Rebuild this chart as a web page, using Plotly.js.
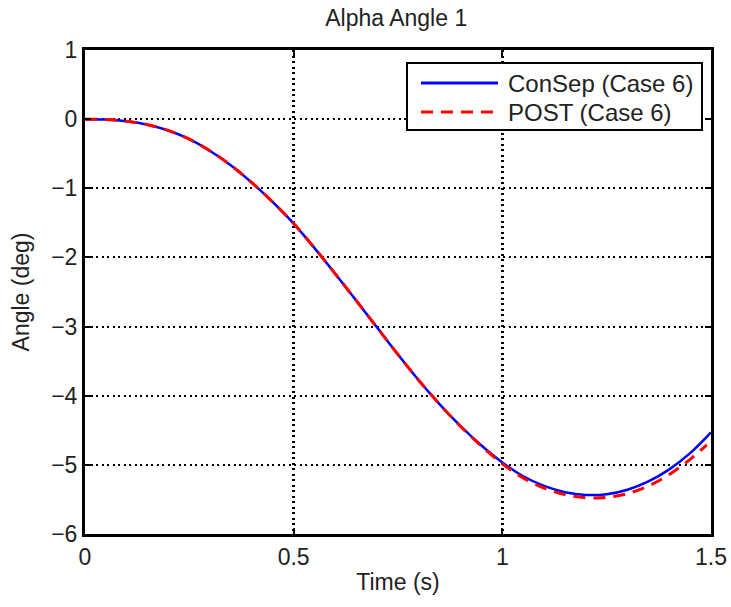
<!DOCTYPE html>
<html>
<head>
<meta charset="utf-8">
<script src="https://cdn.plot.ly/plotly-3.0.1.min.js"></script>
<style>html,body{margin:0;padding:0;background:#fff;}#chart{width:731px;height:607px;}</style>
</head>
<body>
<div id="chart"></div>
<script>
const timeConSep = [0,0.05,0.1,0.15,0.2,0.25,0.3,0.35,0.4,0.45,0.5,0.55,0.6,0.65,0.7,0.75,0.8,0.85,0.9,0.95,1.0,1.05,1.1,1.15,1.2,1.25,1.3,1.35,1.4,1.45,1.5];
const angleConSep = [0,-0.005,-0.03,-0.08,-0.165,-0.29,-0.46,-0.67,-0.92,-1.2,-1.51,-1.865,-2.24,-2.625,-3.015,-3.405,-3.78,-4.125,-4.44,-4.72,-4.965,-5.165,-5.305,-5.395,-5.435,-5.425,-5.36,-5.24,-5.065,-4.83,-4.53];
const timePOST = [0,0.05,0.1,0.15,0.2,0.25,0.3,0.35,0.4,0.45,0.5,0.55,0.6,0.65,0.7,0.75,0.8,0.85,0.9,0.95,1.0,1.05,1.1,1.15,1.2,1.25,1.3,1.35,1.4,1.45,1.49];
const anglePOST = [0,-0.005,-0.03,-0.08,-0.165,-0.29,-0.46,-0.67,-0.92,-1.2,-1.51,-1.865,-2.24,-2.625,-3.015,-3.405,-3.78,-4.125,-4.445,-4.73,-4.985,-5.19,-5.335,-5.43,-5.475,-5.47,-5.415,-5.305,-5.14,-4.92,-4.71];
const seriesNames = ["ConSep (Case 6)", "POST (Case 6)"];
const seriesColors = ["#0000ff", "#ff0000"];
const xTicks = [0,0.5,1,1.5];
const yTicks = [-6,-5,-4,-3,-2,-1,0,1];

const fam = "Liberation Sans, Arial, sans-serif";
const font = {family: fam, size: 23, color: "#222"};
const legFont = {family: fam, size: 24, color: "#222"};
const redDash = "12px,8px";
const traces = [
  {x: timeConSep, y: angleConSep, name: seriesNames[0], mode: "lines", line: {color: seriesColors[0], width: 2.5, shape: "spline"}},
  {x: timePOST, y: anglePOST, name: seriesNames[1], mode: "lines", line: {color: seriesColors[1], width: 3, dash: redDash, shape: "spline"}}
];
const axisCommon = {
  showline: true, mirror: "ticks", linecolor: "#000", linewidth: 3,
  ticks: "inside", ticklen: 6, tickwidth: 2, tickcolor: "#000",
  showgrid: true, gridcolor: "#000", griddash: "2px,3.5px",
  zeroline: false, tickfont: font, automargin: false
};

// legend drawn as a box in paper coordinates
const legBox = {x0: 0.5144, x1: 0.9856, y0: 0.8347, y1: 0.9731};
const legRows = [0.9318, 0.8719];
const legLine = [0.5367, 0.6597];
const legText = 0.6725;
const shapes = [
  {type: "rect", xref: "paper", yref: "paper", x0: legBox.x0, x1: legBox.x1, y0: legBox.y0, y1: legBox.y1,
   line: {color: "#000", width: 2}, fillcolor: "#fff", layer: "above"}
];
const annotations = [];
seriesNames.forEach((n, i) => {
  shapes.push({type: "line", xref: "paper", yref: "paper", x0: legLine[0], x1: legLine[1], y0: legRows[i], y1: legRows[i],
    line: {color: seriesColors[i], width: 3, dash: i === 1 ? redDash : "solid"}, layer: "above"});
  annotations.push({xref: "paper", yref: "paper", x: legText, y: legRows[i], xanchor: "left", yanchor: "middle",
    text: n, showarrow: false, font: legFont});
});

const layout = {
  width: 731, height: 607,
  margin: {l: 85, r: 20, t: 50, b: 73},
  paper_bgcolor: "#fff", plot_bgcolor: "#fff",
  font: font,
  title: {text: "Alpha Angle 1", font: font, x: 0.542, xanchor: "center", y: 0.97, yanchor: "middle"},
  xaxis: Object.assign({}, axisCommon, {range: [0, 1.5], tickvals: xTicks, ticktext: xTicks.map(String), gridwidth: 2.4,
    title: {text: "Time (s)", font: font, standoff: 6}}),
  yaxis: Object.assign({}, axisCommon, {range: [-6, 1], tickvals: yTicks, ticktext: yTicks.map(v => v < 0 ? "\u2212" + Math.abs(v) : String(v)), gridwidth: 2,
    title: {text: "Angle (deg)", font: font, standoff: 16}}),
  showlegend: false,
  shapes: shapes,
  annotations: annotations
};
Plotly.newPlot("chart", traces, layout, {displayModeBar: false, staticPlot: true});
</script>
</body>
</html>
